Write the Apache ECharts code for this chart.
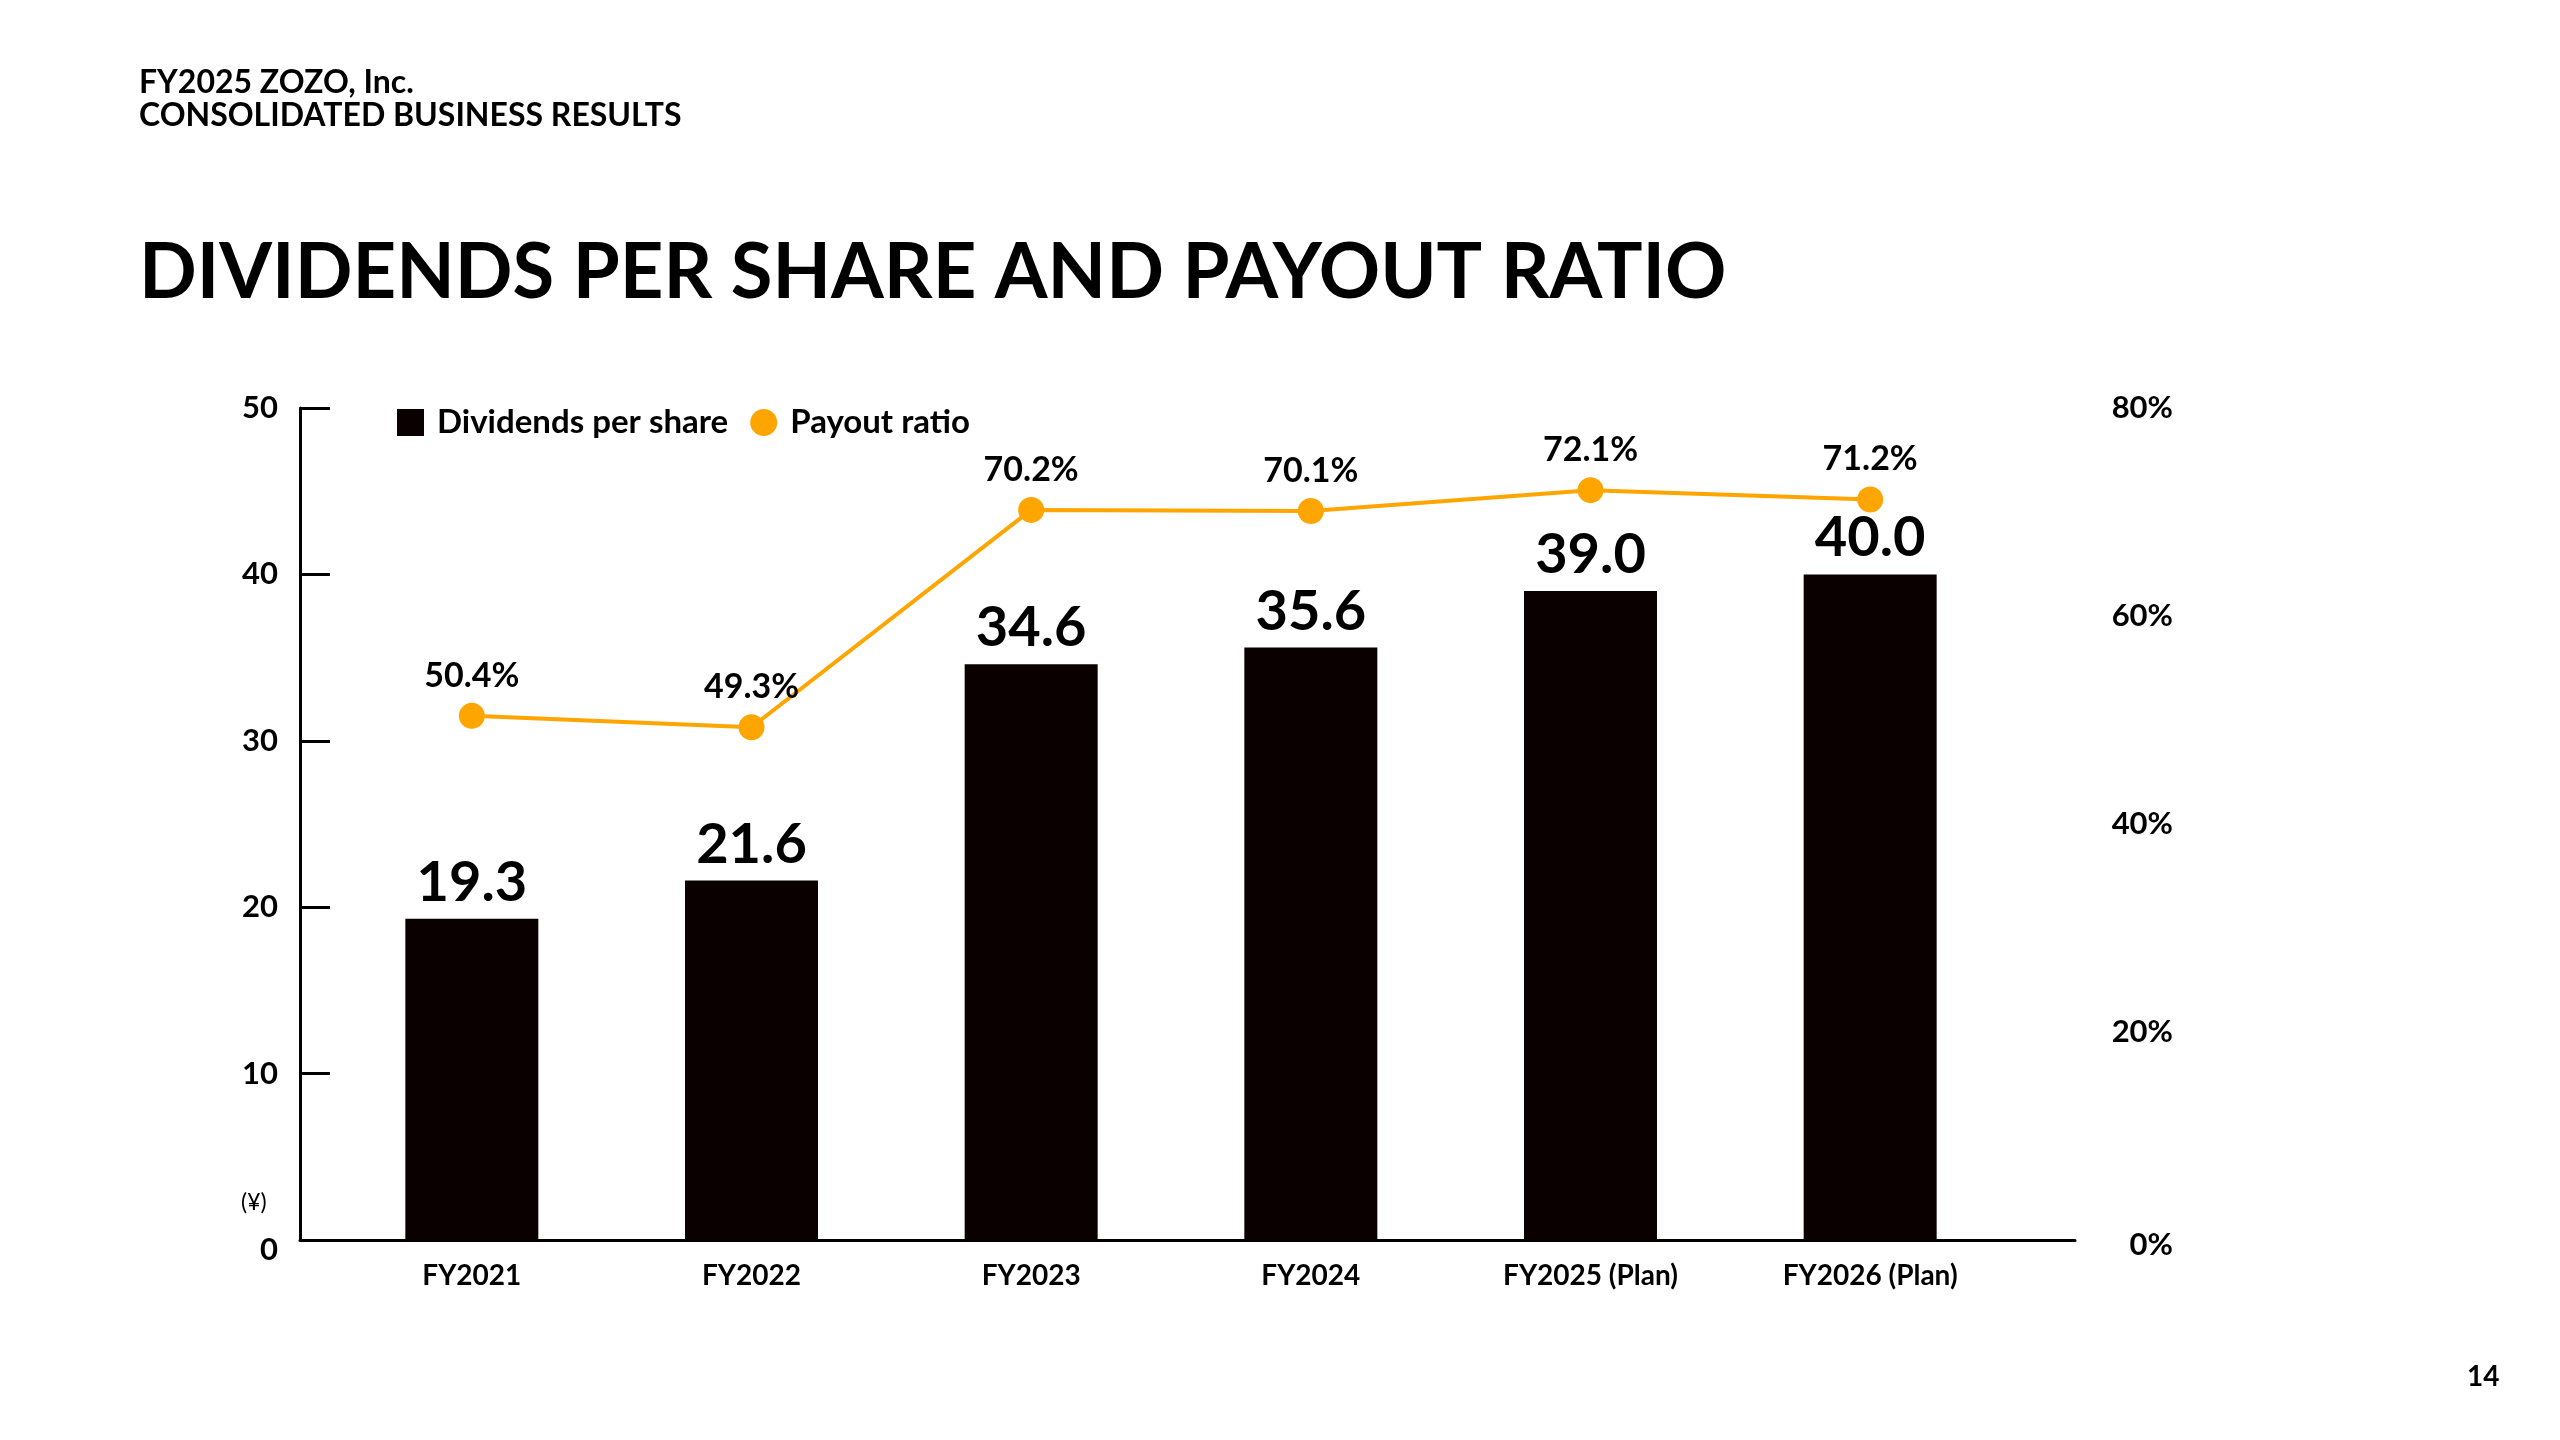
<!DOCTYPE html>
<html>
<head>
<meta charset="utf-8">
<title>Dividends per share and payout ratio</title>
<script src="https://cdn.jsdelivr.net/npm/echarts@6/dist/echarts.min.js"></script>
<style>
    html, body { margin: 0; padding: 0; background: #fff; }
    #main { width: 2560px; height: 1440px; }
</style>
</head>
<body>
<div id="main"></div>
<script>
// data
var categories = ['FY2021', 'FY2022', 'FY2023', 'FY2024', 'FY2025 (Plan)', 'FY2026 (Plan)'];
var dividends = [19.3, 21.6, 34.6, 35.6, 39.0, 40.0];   // yen
var payoutRatio = [50.4, 49.3, 70.2, 70.1, 72.1, 71.2]; // %
var yenAxis = { min: 0, max: 50, interval: 10 };
var ratioAxis = { min: 0, max: 80, interval: 20 };

var FONT = 'Lato, "Noto Sans", sans-serif';
var BAR_COLOR = '#0b0000';
var LINE_COLOR = '#ffa500';

var myChart = echarts.init(document.getElementById('main'));

var option = {
    backgroundColor: '#fff',
    textStyle: { fontFamily: FONT, color: '#000' },
    title: [
        {
            text: 'FY2025 ZOZO, Inc.\nCONSOLIDATED BUSINESS RESULTS',
            left: 134, top: 61,
            textStyle: { fontFamily: FONT, fontSize: 32, fontWeight: 'bold', lineHeight: 33, color: '#000' }
        },
        {
            text: 'DIVIDENDS PER SHARE AND PAYOUT RATIO',
            left: 134, top: 230,
            textStyle: { fontFamily: FONT, fontSize: 76, fontWeight: 'bold', color: '#000' }
        },
        {
            text: '(¥)',
            left: 236, top: 1186,
            textStyle: { fontFamily: FONT, fontSize: 23, fontWeight: 'normal', color: '#000' }
        },
        {
            text: '14',
            left: 2462, top: 1358,
            textStyle: { fontFamily: FONT, fontSize: 28, fontWeight: 'bold', color: '#000' }
        }
    ],
    legend: {
        left: 392, top: 401,
        itemWidth: 27, itemHeight: 27, itemGap: 22,
        textStyle: { fontFamily: FONT, fontSize: 33, fontWeight: 'bold', color: '#000', padding: [0, 0, 0, 8] },
        data: [
            { name: 'Dividends per share', icon: 'rect' },
            { name: 'Payout ratio', icon: 'circle' }
        ]
    },
    grid: [
        // frame: axis lines span wider than the bars
        { left: 300, top: 408, width: 1775, height: 832 },
        // bars and line
        { left: 332, top: 408, width: 1678, height: 832 }
    ],
    xAxis: [
        {
            gridIndex: 0, type: 'value', min: 0, max: 1,
            axisLine: { show: true, lineStyle: { color: '#000', width: 3 } },
            axisTick: { show: false }, axisLabel: { show: false }, splitLine: { show: false }
        },
        {
            gridIndex: 1, type: 'category', data: categories,
            axisLine: { show: false }, axisTick: { show: false }, splitLine: { show: false },
            axisLabel: { fontFamily: FONT, fontSize: 28, fontWeight: 'bold', color: '#000', margin: 22 }
        }
    ],
    yAxis: [
        {
            gridIndex: 0, type: 'value',
            min: yenAxis.min, max: yenAxis.max, interval: yenAxis.interval,
            axisLine: { show: true, lineStyle: { color: '#000', width: 3 } },
            axisTick: { show: true, inside: true, length: 30, lineStyle: { color: '#000', width: 3 } },
            splitLine: { show: false },
            axisLabel: {
                fontFamily: FONT, fontSize: 31, fontWeight: 'bold', color: '#000', margin: 22,
                formatter: function (v) { return v === 0 ? '{z|0}' : String(v); },
                rich: { z: { fontFamily: FONT, fontSize: 31, fontWeight: 'bold', color: '#000', padding: [20, 0, 0, 0] } }
            }
        },
        {
            gridIndex: 1, type: 'value',
            min: yenAxis.min, max: yenAxis.max, interval: yenAxis.interval,
            show: false, splitLine: { show: false }
        },
        {
            gridIndex: 1, type: 'value', position: 'right',
            min: ratioAxis.min, max: ratioAxis.max, interval: ratioAxis.interval,
            axisLine: { show: false }, axisTick: { show: false }, splitLine: { show: false },
            axisLabel: {
                fontFamily: FONT, fontSize: 31, fontWeight: 'bold', color: '#000',
                align: 'right', margin: 163,
                formatter: function (v) { return v === 0 ? '{z|0%}' : v + '%'; },
                rich: { z: { fontFamily: FONT, fontSize: 31, fontWeight: 'bold', color: '#000', padding: [10, 0, 0, 0] } }
            }
        }
    ],
    series: [
        {
            name: 'Dividends per share',
            type: 'bar',
            xAxisIndex: 1, yAxisIndex: 1,
            barWidth: 133,
            itemStyle: { color: BAR_COLOR },
            label: {
                show: true, position: 'top', distance: 8,
                fontFamily: FONT, fontSize: 56, fontWeight: 'bold', color: '#000',
                formatter: function (p) { return p.value.toFixed(1); }
            },
            data: dividends
        },
        {
            name: 'Payout ratio',
            type: 'line',
            xAxisIndex: 1, yAxisIndex: 2,
            symbol: 'circle', symbolSize: 26,
            z: 5,
            lineStyle: { color: LINE_COLOR, width: 4 },
            itemStyle: { color: LINE_COLOR },
            label: {
                show: true, position: 'top', distance: 10,
                fontFamily: FONT, fontSize: 34, fontWeight: 'bold', color: '#000',
                formatter: function (p) { return p.value.toFixed(1) + '%'; }
            },
            data: payoutRatio
        }
    ]
};

myChart.setOption(option);
window.addEventListener('resize', function () {
    myChart.resize();
});
</script>
</body>
</html>
